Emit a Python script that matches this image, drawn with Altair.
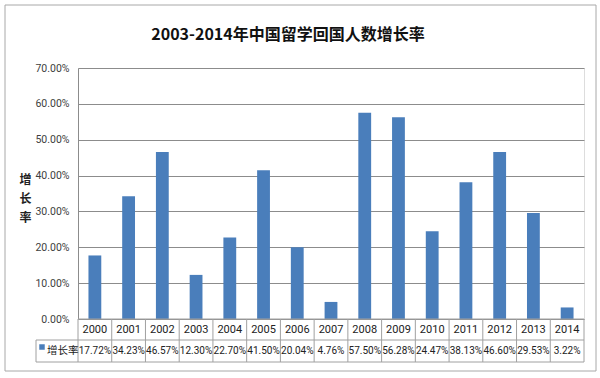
import altair as alt
import pandas as pd

years = ["2000", "2001", "2002", "2003", "2004", "2005", "2006", "2007",
         "2008", "2009", "2010", "2011", "2012", "2013", "2014"]
rates = [0.1772, 0.3423, 0.4657, 0.1230, 0.2270, 0.4150, 0.2004, 0.0476,
         0.5750, 0.5628, 0.2447, 0.3813, 0.4660, 0.2953, 0.0322]
y_ticks = [0, 0.1, 0.2, 0.3, 0.4, 0.5, 0.6, 0.7]
series_name = "增长率"
title_text = "2003-2014年中国留学回国人数增长率"

BLUE = "#4A7EBB"
GRID = "#8C8C8C"
LINE = "#A0A0A0"
NUM_FONT = "Roboto"
CJK_FONT = "Noto Sans CJK SC"

W, H = 506, 251

df = pd.DataFrame({"year": years, "rate": rates})
one = pd.DataFrame({"k": [0]})

xscale = alt.Scale(type="band", domain=years, paddingInner=0, paddingOuter=0)

border = alt.Chart(one).mark_rect(fill="white", fillOpacity=0, stroke="#A8A8A8",
                                  strokeWidth=1).encode(
    x=alt.value(-73), x2=alt.value(518), y=alt.value(-63), y2=alt.value(303)
)

bars = alt.Chart(df).mark_bar(width=alt.RelativeBandSize(0.38), color=BLUE).encode(
    x=alt.X("year:N", scale=xscale, axis=None),
    y=alt.Y("rate:Q",
            scale=alt.Scale(domain=[0, 0.7], nice=False),
            axis=alt.Axis(values=y_ticks, format=".2%", grid=True, gridColor=GRID,
                          gridWidth=1, domain=True, domainColor=GRID, ticks=False,
                          labelPadding=9, labelFont=NUM_FONT, labelFontSize=10.5,
                          labelColor="#404040",
                          title=["增", "长", "率"], titleAngle=0, titleFont=CJK_FONT,
                          titleFontSize=12, titleFontWeight="bold", titleColor="#222222",
                          titleLineHeight=19, titleX=-53, titleY=106,
                          titleAlign="center", titleBaseline="top")),
)

# table: horizontal lines
hlines = pd.DataFrame({"yy": [251, 272, 294], "xs": [0, -42, -42]})
h_rules = alt.Chart(hlines).mark_rule(color=LINE, strokeWidth=1).encode(
    x=alt.X("xs:Q", scale=None), x2=alt.value(W), y=alt.Y("yy:Q", scale=None)
)
# column separators
v_rules = alt.Chart(df).mark_rule(color=LINE, strokeWidth=1).encode(
    x=alt.X("year:N", scale=xscale, bandPosition=0, axis=None),
    y=alt.value(251), y2=alt.value(294)
)
v_end = alt.Chart(one).mark_rule(color=LINE, strokeWidth=1).encode(
    x=alt.value(W), y=alt.value(251), y2=alt.value(294)
)
v_left = alt.Chart(one).mark_rule(color=LINE, strokeWidth=1).encode(
    x=alt.value(-42), y=alt.value(272), y2=alt.value(294)
)

year_text = alt.Chart(df).mark_text(font=NUM_FONT, fontSize=11, color="#222222",
                                    baseline="middle").encode(
    x=alt.X("year:N", scale=xscale, bandPosition=0.5, axis=None),
    y=alt.value(262),
    text="year:N",
)
val_text = alt.Chart(df).mark_text(font=NUM_FONT, fontSize=10, color="#222222",
                                   baseline="middle").encode(
    x=alt.X("year:N", scale=xscale, bandPosition=0.5, axis=None),
    y=alt.value(283),
    text=alt.Text("rate:Q", format=".2%"),
)

legend_sq = alt.Chart(one).mark_square(color=BLUE, size=30, opacity=1).encode(
    x=alt.value(-36), y=alt.value(279)
)
legend_txt = alt.Chart(pd.DataFrame({"s": [series_name]})).mark_text(
    font=CJK_FONT, fontSize=10.5, color="#222222", align="left", baseline="middle").encode(
    x=alt.value(-31), y=alt.value(283), text="s:N"
)

title = alt.Chart(pd.DataFrame({"t": [title_text]})).mark_text(
    font=CJK_FONT, fontSize=16, fontWeight="bold", color="#111111",
    align="center", baseline="middle").encode(
    x=alt.value(210), y=alt.value(-33), text="t:N"
)

chart = alt.layer(
    border, bars, h_rules, v_rules, v_end, v_left, year_text, val_text,
    legend_sq, legend_txt, title
).properties(
    width=W, height=H,
    padding={"left": 78, "top": 68, "right": 16, "bottom": 59},
    autosize=alt.AutoSizeParams(type="none"),
).configure_view(stroke=None).configure(background="white")

chart.save("out.html", embed_options={"renderer": "svg", "actions": False})
